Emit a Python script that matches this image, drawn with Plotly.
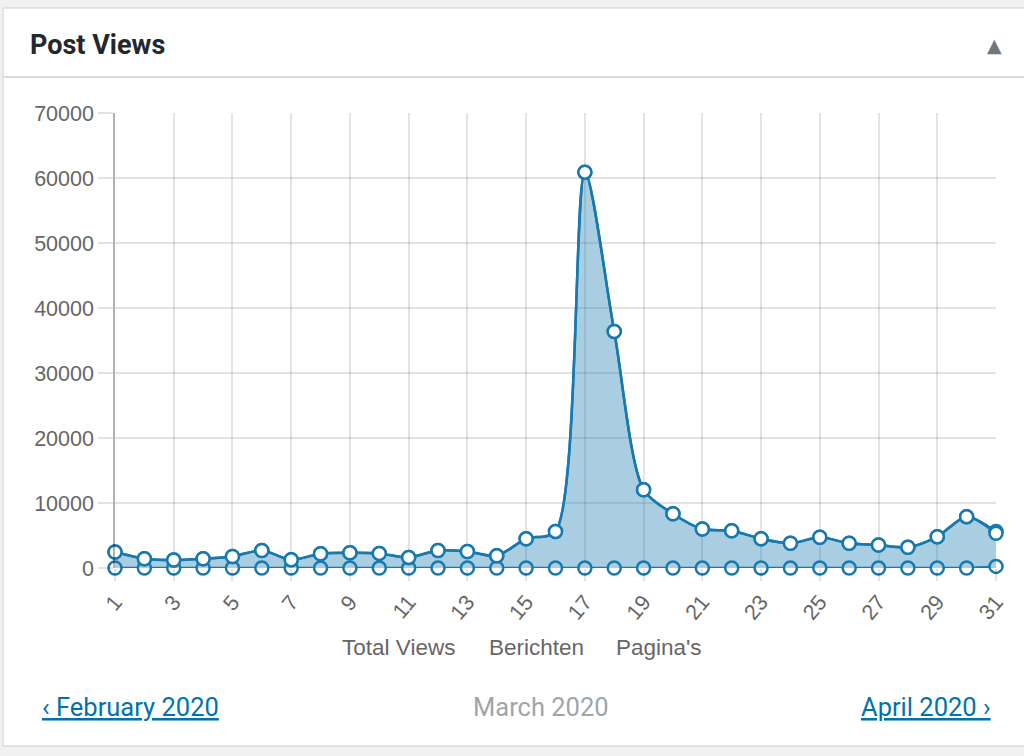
import plotly.graph_objects as go

days = list(range(1, 32))
total_views = [2450, 1430, 1230, 1430, 1780, 2700, 1280, 2200, 2350, 2250,
               1630, 2700, 2550, 1890, 4500, 5630, 60900, 36400, 12050, 8350,
               6000, 5740, 4500, 3800, 4720, 3800, 3540, 3180, 4820, 7900, 5600]
berichten = [2450, 1430, 1230, 1430, 1780, 2700, 1280, 2200, 2350, 2250,
             1630, 2700, 2550, 1890, 4500, 5630, 60900, 36400, 12050, 8350,
             6000, 5740, 4500, 3800, 4720, 3800, 3540, 3180, 4820, 7900, 5350]
paginas = [0, 0, 0, 0, 0, 0, 0, 0, 0, 0,
           0, 0, 0, 0, 0, 0, 0, 0, 0, 0,
           0, 0, 0, 0, 0, 0, 0, 0, 0, 0, 250]
x_ticks = list(range(1, 32, 2))
x_tick_labels = [str(d) for d in x_ticks]
y_ticks = [0, 10000, 20000, 30000, 40000, 50000, 60000, 70000]
y_tick_labels = [str(v) for v in y_ticks]
legend_labels = ["Total Views", "Berichten", "Pagina's"]

LINE = "rgb(24,121,174)"
FILL = "rgba(24,121,174,0.37)"
CHART_FONT = "Liberation Sans"
UI_FONT = "Roboto"

fig = go.Figure()
marker = dict(size=13, color="white", line=dict(color=LINE, width=2.5))
fig.add_trace(go.Scatter(x=days, y=paginas, mode="lines+markers", name=legend_labels[2],
                         line=dict(color=LINE, width=2.5, shape="spline", smoothing=0.8),
                         marker=marker, cliponaxis=False))
fig.add_trace(go.Scatter(x=days, y=total_views, mode="lines+markers", name=legend_labels[0],
                         fill="tozeroy", fillcolor=FILL,
                         line=dict(color=LINE, width=2.5, shape="spline", smoothing=0.8),
                         marker=marker, cliponaxis=False))
fig.add_trace(go.Scatter(x=days, y=berichten, mode="lines+markers", name=legend_labels[1],
                         line=dict(color=LINE, width=2.5, shape="spline", smoothing=0.8),
                         marker=marker, cliponaxis=False))

L, R, T, B = 115, 996, 113, 568
W, H = 1024, 756
pw, ph = R - L, B - T


def px(x):
    return (x - L) / pw


def py(y):
    return (B - y) / ph


shapes = [
    dict(type="rect", xref="paper", yref="paper", x0=px(3), x1=px(1040), y0=py(746), y1=py(8),
         fillcolor="white", line=dict(color="#ccd0d4", width=1), layer="below"),
    dict(type="line", xref="paper", yref="paper", x0=px(3), x1=px(1040), y0=py(77), y1=py(77),
         line=dict(color="#ccd0d4", width=1.5), layer="below"),
]

annotations = [
    dict(text="<b>Post Views</b>", xref="paper", yref="paper", x=px(28), y=py(45),
         xanchor="left", yanchor="middle", showarrow=False,
         font=dict(family=UI_FONT, size=27, color="#23282d")),
    dict(text="▲", xref="paper", yref="paper", x=px(994), y=py(45),
         xanchor="center", yanchor="middle", showarrow=False,
         font=dict(family="DejaVu Sans", size=19, color="#72777c")),
]
legend_x = [398, 536, 659]
for lab, cx in zip(legend_labels, legend_x):
    annotations.append(dict(text=lab, xref="paper", yref="paper", x=px(cx), y=py(647),
                            xanchor="center", yanchor="middle", showarrow=False,
                            font=dict(family=CHART_FONT, size=22.5, color="#666666")))
annotations += [
    dict(text='<span style="text-decoration:underline">‹ February 2020</span>',
         xref="paper", yref="paper", x=px(40), y=py(707), xanchor="left", yanchor="middle",
         showarrow=False, font=dict(family=UI_FONT, size=25.5, color="#0073aa")),
    dict(text="March 2020", xref="paper", yref="paper", x=px(541), y=py(707),
         xanchor="center", yanchor="middle", showarrow=False,
         font=dict(family=UI_FONT, size=25.5, color="#a0a5aa")),
    dict(text='<span style="text-decoration:underline">April 2020 ›</span>',
         xref="paper", yref="paper", x=px(993), y=py(707), xanchor="right", yanchor="middle",
         showarrow=False, font=dict(family=UI_FONT, size=25.5, color="#0073aa")),
]

fig.update_layout(
    width=W, height=H,
    margin=dict(l=L, r=W - R, t=T, b=H - B, pad=0),
    paper_bgcolor="#f1f1f1", plot_bgcolor="white",
    showlegend=False,
    shapes=shapes, annotations=annotations,
    xaxis=dict(range=[1, 31], tickvals=x_ticks, ticktext=x_tick_labels, tickangle=-50,
               showgrid=True, gridcolor="rgba(0,0,0,0.11)", gridwidth=1.5,
               ticks="outside", ticklen=12, tickcolor="rgba(0,0,0,0.11)", tickwidth=1.5,
               tickfont=dict(family=CHART_FONT, size=21.5, color="#666666"),
               showline=False, zeroline=False, fixedrange=True),
    yaxis=dict(range=[0, 70000], tickvals=y_ticks, ticktext=y_tick_labels, showgrid=True,
               gridcolor="rgba(0,0,0,0.11)", gridwidth=1.5,
               ticks="outside", ticklen=15, tickcolor="rgba(0,0,0,0.11)", tickwidth=1.5,
               tickfont=dict(family=CHART_FONT, size=21.5, color="#666666"),
               showline=True, linecolor="rgba(0,0,0,0.3)", linewidth=1.5,
               zeroline=False, fixedrange=True),
)

fig.write_html("out.html", config={"displayModeBar": False})
